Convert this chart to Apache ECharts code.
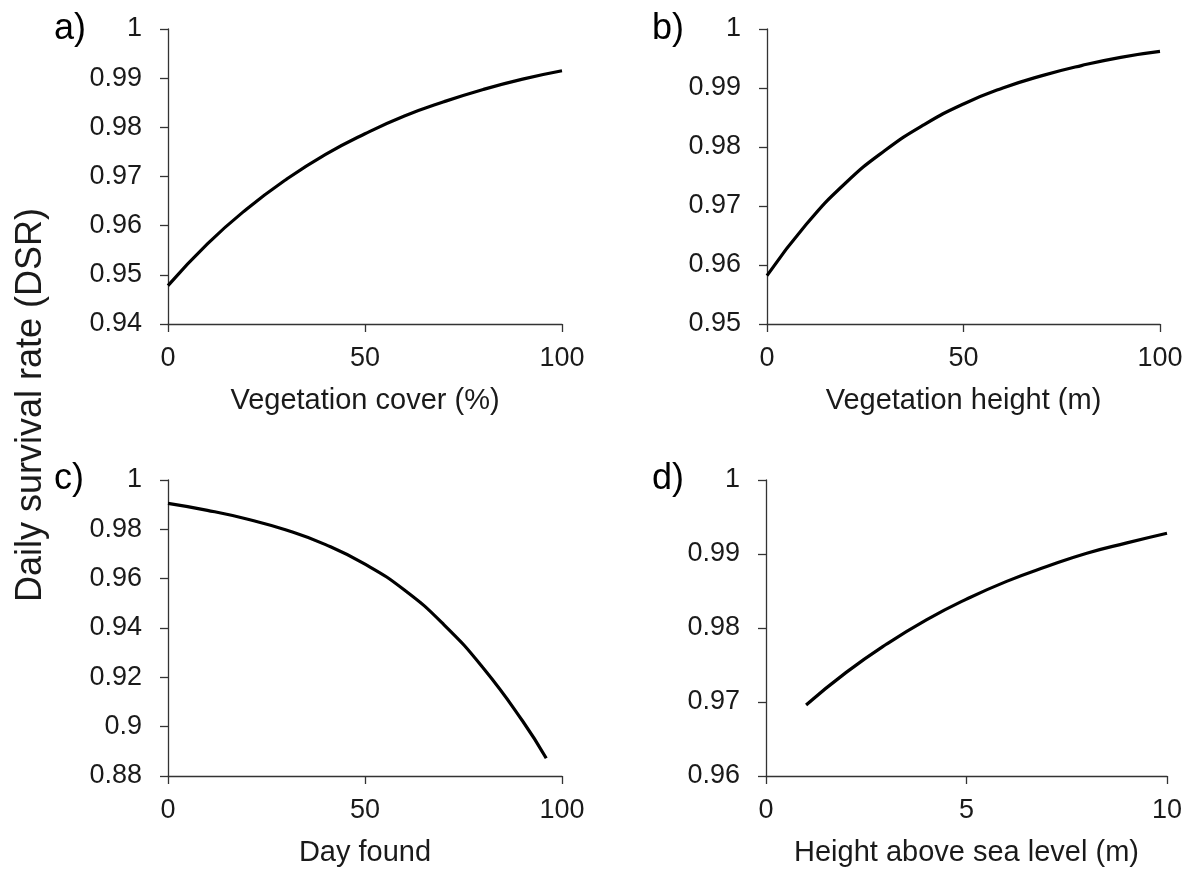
<!DOCTYPE html>
<html>
<head>
<meta charset="utf-8">
<script src="https://cdn.jsdelivr.net/npm/echarts@6/dist/echarts.min.js"></script>
<style>
html,body{margin:0;padding:0;background:#fff;}
#chart{width:1195px;height:870px;}
</style>
</head>
<body>
<div id="chart"></div>
<script>
// Panel a: Vegetation cover (%)
const coverX = [0, 10, 20, 30, 40, 50, 60, 70, 80, 90, 100];
const coverDSR = [0.9478, 0.9563, 0.9634, 0.9694, 0.9745, 0.9787, 0.9823, 0.9852, 0.9877, 0.9898, 0.9915];
// Panel b: Vegetation height (m)
const heightX = [0, 10, 20, 30, 40, 50, 60, 70, 80, 90, 100];
const heightDSR = [0.9582, 0.9669, 0.9739, 0.9794, 0.9838, 0.9873, 0.9900, 0.9921, 0.9938, 0.9952, 0.9962];
// Panel c: Day found
const dayX = [0, 10, 20, 30, 40, 50, 60, 70, 80, 90, 96];
const dayDSR = [0.9905, 0.9877, 0.9842, 0.9797, 0.9738, 0.9659, 0.9554, 0.9414, 0.9238, 0.9023, 0.8872];
// Panel d: Height above sea level (m)
const seaX = [1, 2, 3, 4, 5, 6, 7, 8, 9, 10];
const seaDSR = [0.9696, 0.9740, 0.9778, 0.9811, 0.9839, 0.9863, 0.9883, 0.9901, 0.9915, 0.9928];

const panelLabels = ['a)', 'b)', 'c)', 'd)'];
const xTitles = ['Vegetation cover (%)', 'Vegetation height (m)', 'Day found', 'Height above sea level (m)'];
const yTitle = 'Daily survival rate (DSR)';
const xRanges = [[0, 100, 50], [0, 100, 50], [0, 100, 50], [0, 10, 5]];
const yRanges = [[0.94, 1, 0.01], [0.95, 1, 0.01], [0.88, 1, 0.02], [0.96, 1, 0.01]];

const FONT = '"Liberation Sans", Arial, sans-serif';
const TXT = '#1a1a1a';

const grids = [
  {left: 168, top: 29, width: 394, height: 295},
  {left: 767, top: 29, width: 393, height: 295},
  {left: 168, top: 480, width: 394, height: 296},
  {left: 766, top: 480, width: 401, height: 296}
];

const xs = [coverX, heightX, dayX, seaX];
const ys = [coverDSR, heightDSR, dayDSR, seaDSR];

const option = {
  backgroundColor: '#fff',
  animation: false,
  textStyle: {fontFamily: FONT},
  grid: grids.map(g => Object.assign({containLabel: false, outerBoundsMode: 'none'}, g)),
  xAxis: grids.map((g, i) => ({
    type: 'value', gridIndex: i,
    min: xRanges[i][0], max: xRanges[i][1], interval: xRanges[i][2],
    name: xTitles[i], nameLocation: 'middle', nameGap: 62,
    nameTextStyle: {fontSize: 29, color: TXT, fontFamily: FONT},
    axisLine: {show: true, onZero: false, lineStyle: {color: '#333', width: 1.3}},
    axisTick: {show: true, length: 8, lineStyle: {color: '#333', width: 1.3}},
    axisLabel: {fontSize: 27, color: TXT, margin: 21, fontFamily: FONT},
    splitLine: {show: false}
  })),
  yAxis: grids.map((g, i) => ({
    type: 'value', gridIndex: i,
    min: yRanges[i][0], max: yRanges[i][1], interval: yRanges[i][2],
    axisLine: {show: true, onZero: false, lineStyle: {color: '#333', width: 1.3}},
    axisTick: {show: true, length: 8, lineStyle: {color: '#333', width: 1.3}},
    axisLabel: {fontSize: 27, color: TXT, margin: 26, fontFamily: FONT,
      formatter: v => String(parseFloat(v.toFixed(4)))},
    splitLine: {show: false}
  })),
  series: xs.map((xv, i) => ({
    type: 'line', xAxisIndex: i, yAxisIndex: i,
    data: xv.map((x, k) => [x, ys[i][k]]),
    smooth: true, showSymbol: false, symbol: 'none',
    lineStyle: {color: '#000', width: 3.2},
    z: 3
  })),
  graphic: [
    {type: 'text', left: 54, top: 11, style: {text: panelLabels[0], font: '36px ' + FONT, fill: '#000'}},
    {type: 'text', left: 652, top: 11, style: {text: panelLabels[1], font: '36px ' + FONT, fill: '#000'}},
    {type: 'text', left: 54, top: 461, style: {text: panelLabels[2], font: '36px ' + FONT, fill: '#000'}},
    {type: 'text', left: 652, top: 461, style: {text: panelLabels[3], font: '36px ' + FONT, fill: '#000'}},
    {type: 'text', x: 31, y: 405, rotation: Math.PI / 2,
      style: {text: yTitle, font: '36px ' + FONT, fill: TXT, textAlign: 'center', textVerticalAlign: 'middle'}}
  ]
};

const chart = echarts.init(document.getElementById('chart'), null, {renderer: 'canvas'});
chart.setOption(option);
</script>
</body>
</html>
